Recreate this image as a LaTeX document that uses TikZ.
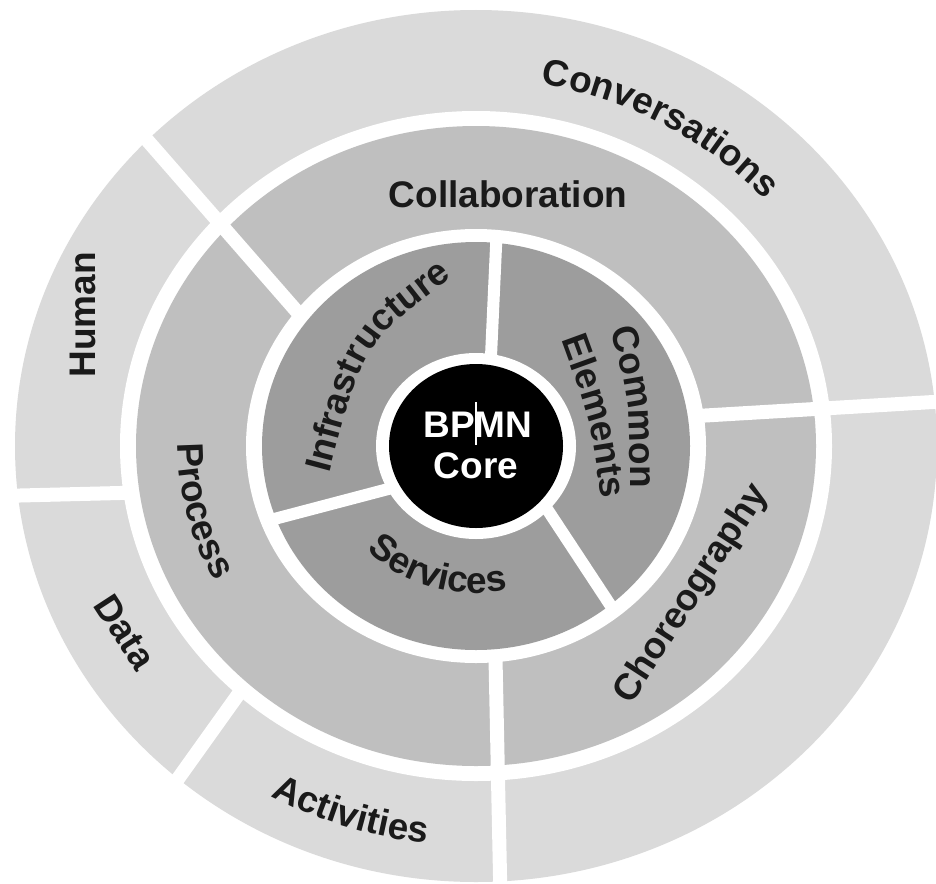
\documentclass[tikz,border=0pt]{standalone}
\usepackage{fontspec}
\setmainfont{Liberation Sans}
\usetikzlibrary{decorations.text}
\definecolor{ringout}{HTML}{DADADA}
\definecolor{ringmid}{HTML}{BFBFBF}
\definecolor{ringin}{HTML}{9D9D9D}
\definecolor{txt}{HTML}{1A1A1A}
\newcommand{\lblfont}{\bfseries\fontsize{37pt}{41pt}\selectfont}
\newcommand{\ringtext}[4]{%
  \path[decorate, decoration={text along path, text align=center, text color=txt, text={|\lblfont|#4}}]
    (#1:#3) arc[start angle=#1, end angle=#2, x radius={1.06*#3pt}, y radius={#3pt}];}
\newcommand{\pathtext}[2]{%
  \path[decorate, decoration={text along path, text align=center, text color=txt, text={|\lblfont|#2}}] #1;}
\begin{document}
\begin{tikzpicture}[x=1pt,y=-1pt,
  spoke/.style={white, line width=14pt},
  lbl/.style={font=\lblfont, text=txt, inner sep=0pt}]
\useasboundingbox (0,0) rectangle (936,883);
\fill[white] (0,0) rectangle (936,883);
\coordinate (c) at (476,446);
% outer ring
\fill[ringout] (c) ellipse[x radius=461pt, y radius=436pt];
\draw[spoke] (0,496) -- (200,491);
\draw[spoke] (160,804) -- (290,622);
% middle ring
\fill[white] (c) ellipse[x radius=356pt, y radius=335pt];
\fill[ringmid] (c) ellipse[x radius=340pt, y radius=320pt];
\draw[spoke] (120,109) -- (320,338);
\draw[spoke] (494.5,610) -- (500.5,900);
\draw[spoke] (680,417) -- (950,401);
% inner ring
\fill[white] (c) ellipse[x radius=230pt, y radius=217pt];
\fill[ringin] (c) ellipse[x radius=214pt, y radius=204pt];
\begin{scope}
\clip (c) ellipse[x radius=222pt, y radius=210pt];
\draw[spoke, line width=12pt] (497,225) -- (489,400);
\draw[spoke, line width=12pt] (240,528) -- (430,478);
\draw[spoke, line width=12pt] (520,468) -- (630,635);
\end{scope}
% core
\fill[white] (c) ellipse[x radius=100pt, y radius=93pt];
\fill[black] (c) ellipse[x radius=87pt, y radius=82pt];
% curved labels
\begin{scope}[shift={(476,446)}, x=1.06pt, y=1pt]
\ringtext{92}{30}{367}{Conversations}
\ringtext{222}{282}{400}{Activities}
\ringtext{165}{223}{281}{Process}
\ringtext{193}{313}{147}{Services}
\end{scope}
\pathtext{(313,532) -- (329,474) .. controls (364,343) .. (453,277) -- (500,240)}{Infrastructure}
\pathtext{(597,277) -- (612,335) .. controls (630,402) .. (630,482) -- (630,542)}{Common}
\pathtext{(543,289) -- (563,345) .. controls (590,419) .. (601,493) -- (610,552)}{Elements}
% straight labels
\node[lbl, anchor=base] (collab) at (508,207) {Collaboration};
\node[lbl, rotate=90] (human) at (83,315) {Human};
\node[lbl, rotate=-57] (data) at (125,632) {Data};
\node[lbl, rotate=57] (choreo) at (692,594) {Choreography};
\node[lbl, text=white, anchor=base] (bpmn) at (478,437) {BPMN};
\node[lbl, text=white, anchor=base] (core) at (476,478) {Core};
\draw[white, line width=1.5pt] (476,402) -- (476,445);
\end{tikzpicture}
\end{document}
